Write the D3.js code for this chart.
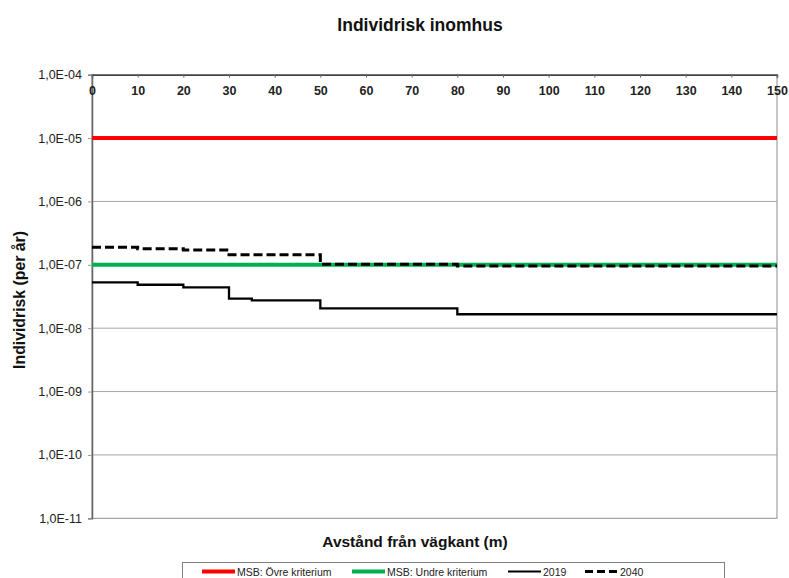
<!DOCTYPE html>
<html><head><meta charset="utf-8">
<script src="https://cdn.jsdelivr.net/npm/d3@7"></script>
<style>
body{margin:0;background:#fff;}
svg{display:block;font-family:"Liberation Sans",Arial,sans-serif;}
</style></head><body>
<svg id="c" width="789" height="578"></svg>
<script>
// ---- data ----
const title = "Individrisk inomhus";
const xTitle = "Avstånd från vägkant (m)";
const yTitle = "Individrisk (per år)";
const xTicks = [0,10,20,30,40,50,60,70,80,90,100,110,120,130,140,150];
const yTicks = [1e-4,1e-5,1e-6,1e-7,1e-8,1e-9,1e-10,1e-11];
const yTickLabels = ["1,0E-04","1,0E-05","1,0E-06","1,0E-07","1,0E-08","1,0E-09","1,0E-10","1,0E-11"];
const stepX = [0,10,20,30,35,50,80,150];
const risk2019 = [5.3e-8,4.85e-8,4.42e-8,2.92e-8,2.75e-8,2.06e-8,1.66e-8,1.66e-8];
const risk2040 = [1.89e-7,1.80e-7,1.71e-7,1.44e-7,1.44e-7,1.02e-7,9.6e-8,9.6e-8];
const upperX = [0,150], upperVal = [1e-5,1e-5];
const lowerX = [0,150], lowerVal = [1e-7,1e-7];
const legendLabels = ["MSB: Övre kriterium","MSB: Undre kriterium","2019","2040"];

// ---- layout ----
const L=92, R=777, T=74.7, B=518.3;
const svg = d3.select("#c");
const x = d3.scaleLinear().domain([0,150]).range([L,R]);
const y = d3.scaleLog().domain([1e-11,1e-4]).range([B,T]);

// plot border
svg.append("rect").attr("x",L).attr("y",T).attr("width",R-L).attr("height",B-T)
  .attr("fill","none").attr("stroke","#8c8c8c").attr("stroke-width",1);

// gridlines
svg.append("g").selectAll("line").data(yTicks.slice(1,-1)).join("line")
  .attr("x1",L).attr("x2",R).attr("y1",d=>y(d)).attr("y2",d=>y(d))
  .attr("stroke","#a6a6a6").attr("stroke-width",1);

// y axis
const yAxis = d3.axisLeft(y).tickValues(yTicks).tickSize(4).tickPadding(6)
  .tickFormat((d,i)=>yTickLabels[i]);
const gy = svg.append("g").attr("transform",`translate(${L},0)`).call(yAxis);
gy.select(".domain").attr("stroke","#666").attr("stroke-width",1.5);
gy.selectAll(".tick line").attr("stroke","#999");
gy.selectAll("text").attr("font-size",12.5).attr("fill","#222").attr("font-family","Liberation Sans, Arial, sans-serif");

// series
const line = d3.line().x(d=>x(d[0])).y(d=>y(d[1]));
const stepLine = d3.line().x(d=>x(d[0])).y(d=>y(d[1])).curve(d3.curveStepAfter);
svg.append("path").datum(d3.zip(upperX,upperVal)).attr("d",line)
  .attr("fill","none").attr("stroke","#ff0000").attr("stroke-width",4);
svg.append("path").datum(d3.zip(lowerX,lowerVal)).attr("d",line)
  .attr("fill","none").attr("stroke","#00b050").attr("stroke-width",4);
svg.append("path").datum(d3.zip(stepX,risk2019)).attr("d",stepLine)
  .attr("fill","none").attr("stroke","#000").attr("stroke-width",2.3);
svg.append("path").datum(d3.zip(stepX,risk2040)).attr("d",stepLine)
  .attr("fill","none").attr("stroke","#000").attr("stroke-width",3).attr("stroke-dasharray","9,4");

// top x axis (labels inside plot)
const xAxis = d3.axisBottom(x).tickValues(xTicks).tickSize(3).tickPadding(8).tickFormat(d3.format("d"));
const gx = svg.append("g").attr("transform",`translate(0,${T})`).call(xAxis);
gx.select(".domain").attr("stroke","#444").attr("stroke-width",1.5);
gx.selectAll(".tick line").attr("stroke","#666");
gx.selectAll("text").attr("font-size",12.5).attr("font-weight","bold").attr("fill","#222")
  .attr("font-family","Liberation Sans, Arial, sans-serif");

// titles
svg.append("text").attr("x",420).attr("y",31).attr("text-anchor","middle")
  .attr("font-size",17.5).attr("font-weight","bold").attr("fill","#111").text(title);
svg.append("text").attr("x",415).attr("y",547).attr("text-anchor","middle")
  .attr("font-size",15.5).attr("font-weight","bold").attr("fill","#111").text(xTitle);
svg.append("text").attr("transform","translate(24.5,300) rotate(-90)").attr("text-anchor","middle")
  .attr("font-size",15.8).attr("font-weight","bold").attr("fill","#111").text(yTitle);

// legend
svg.append("rect").attr("x",182.5).attr("y",562.5).attr("width",542).attr("height",30)
  .attr("fill","#fff").attr("stroke","#7f7f7f").attr("stroke-width",1);
const legX = [202,352,508,585];
const legStyles = [
  {c:"#ff0000",w:4,d:null},{c:"#00b050",w:4,d:null},{c:"#000",w:2,d:null},{c:"#000",w:3,d:"8,4"}];
legendLabels.forEach((lab,i)=>{
  const s=legStyles[i];
  svg.append("line").attr("x1",legX[i]).attr("x2",legX[i]+33).attr("y1",571.5).attr("y2",571.5)
    .attr("stroke",s.c).attr("stroke-width",s.w).attr("stroke-dasharray",s.d);
  svg.append("text").attr("x",legX[i]+35).attr("y",575.5).attr("font-size",10.5).attr("fill","#222").text(lab);
});
</script></body></html>
